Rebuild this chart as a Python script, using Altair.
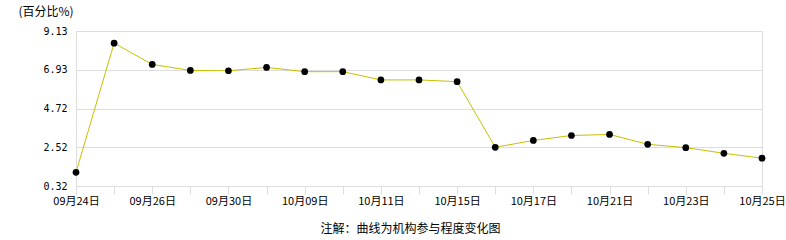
import altair as alt
import pandas as pd

dates = ["09月24日", "09月25日", "09月26日", "09月27日", "09月30日", "10月08日",
         "10月09日", "10月10日", "10月11日", "10月14日", "10月15日", "10月16日",
         "10月17日", "10月18日", "10月21日", "10月22日", "10月23日", "10月24日",
         "10月25日"]
values = [1.10, 8.44, 7.23, 6.89, 6.87, 7.06, 6.82, 6.82, 6.35, 6.35, 6.25,
          2.52, 2.91, 3.19, 3.25, 2.69, 2.50, 2.18, 1.90]
shown_labels = ["09月24日", "09月26日", "09月30日", "10月09日", "10月11日",
                "10月15日", "10月17日", "10月21日", "10月23日", "10月25日"]
y_ticks = [0.32, 2.52, 4.72, 6.93, 9.13]

df = pd.DataFrame({"date": dates, "value": values})

label_list = ",".join("'" + s + "'" for s in shown_labels)
label_expr = f"indexof([{label_list}], datum.value) >= 0 ? datum.value : ''"

x = alt.X("date:N", sort=dates, scale=alt.Scale(type="point", padding=0),
          axis=alt.Axis(title="注解：曲线为机构参与程度变化图", labelExpr=label_expr,
                        labelAngle=0, tickSize=8, tickColor="#dddddd",
                        domainColor="#dddddd", grid=False, labelPadding=1,
                        labelFont="Noto Sans CJK SC", labelFontSize=11,
                        labelColor="#000000", labelBaseline="top",
                        titleFont="Noto Sans CJK SC", titleFontSize=12,
                        titleFontWeight="normal", titleColor="#000000",
                        titleX=334, titleY=42, titleBaseline="middle",
                        titleAlign="center"))
y = alt.Y("value:Q", scale=alt.Scale(domain=[0.32, 9.13], nice=False, zero=False),
          axis=alt.Axis(title="(百分比%)", values=y_ticks, format=".2f",
                        ticks=False, domainColor="#dddddd", gridColor="#dddddd",
                        labelPadding=9, labelFont="DejaVu Sans Mono",
                        labelFontSize=10, labelColor="#000000",
                        titleAngle=0, titleX=-58, titleY=-20, titleAlign="left",
                        titleBaseline="middle", titleFont="Noto Sans CJK SC",
                        titleFontSize=12, titleFontWeight="normal",
                        titleColor="#000000"))

base = alt.Chart(df).encode(x=x, y=y)
line = base.mark_line(color="#c8c000", strokeWidth=1)
pts = base.mark_circle(color="#000000", opacity=1, size=45)

chart = (line + pts).properties(
    width=686, height=155,
    autosize=alt.AutoSizeParams(type="none"),
    padding={"left": 76, "top": 31, "right": 24, "bottom": 54},
    background="#ffffff",
).configure_view(stroke="#dddddd")

chart.save("out.html", embed_options={"renderer": "svg", "actions": False})
